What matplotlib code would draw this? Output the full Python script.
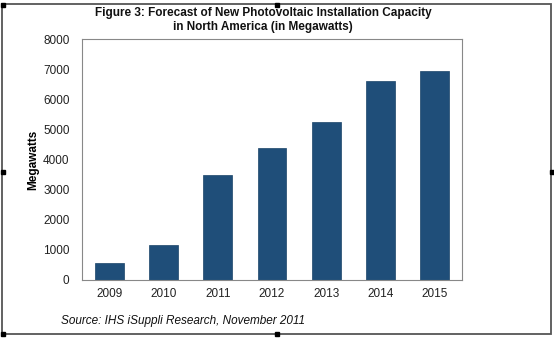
import matplotlib.pyplot as plt
from matplotlib.patches import Rectangle

years = ['2009', '2010', '2011', '2012', '2013', '2014', '2015']
megawatts = [580, 1150, 3500, 4380, 5250, 6600, 6950]
y_ticks = [0, 1000, 2000, 3000, 4000, 5000, 6000, 7000, 8000]

plt.rcParams['font.family'] = ['Liberation Sans', 'DejaVu Sans']

W, H = 554, 338
fig = plt.figure(figsize=(W / 100, H / 100), dpi=100)
ax = fig.add_axes([82 / W, 1 - 280 / H, (462 - 82) / W, (280 - 39) / H])

ax.bar(range(len(years)), megawatts, width=0.53, color='#1F4E79',
       edgecolor='#1A4468', linewidth=0.5)
ax.set_xlim(-0.5, len(years) - 0.5)
ax.set_ylim(0, 8000)
ax.set_xticks(range(len(years)))
ax.set_xticklabels(years)
ax.set_yticks(y_ticks)
ax.tick_params(length=0, labelsize=8.5, colors='#222222')
ax.tick_params(axis='y', pad=9)
ax.tick_params(axis='x', pad=6)
for s in ax.spines.values():
    s.set_color('#888888')
    s.set_linewidth(0.8)

fig.text(33 / W, 1 - 160 / H, 'Megawatts', rotation=90, fontsize=8.5,
         fontweight='bold', ha='center', va='center')

fig.text(263 / W, 1 - 20 / H,
         'Figure 3: Forecast of New Photovoltaic Installation Capacity\nin North America (in Megawatts)',
         ha='center', va='center', fontsize=8.5, fontweight='bold',
         linespacing=1.15, color='#111111')
fig.text(61 / W, 1 - 321 / H, 'Source: IHS iSuppli Research, November 2011',
         ha='left', va='center', fontsize=8.5, style='italic', color='#111111')

# outer frame and selection handles
fig.patches.append(Rectangle((2 / W, 1 - 334 / H), 549 / W, 330 / H,
                             transform=fig.transFigure, fill=False,
                             edgecolor='#555555', linewidth=1.3))
for hx, hy in [(3, 5), (277, 5), (3, 172), (552, 172), (277, 334), (3, 334)]:
    fig.patches.append(Rectangle(((hx - 2) / W, 1 - (hy + 2) / H), 4 / W, 4 / H,
                                 transform=fig.transFigure, color='black'))

fig.savefig('out.png', dpi=100)
